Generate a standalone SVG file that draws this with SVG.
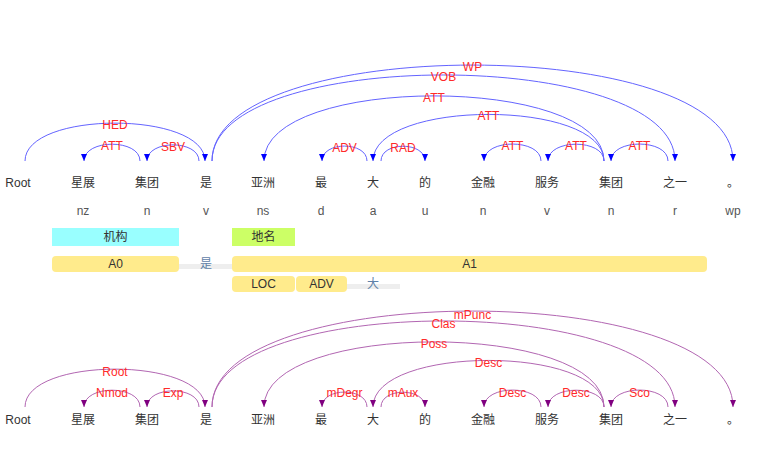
<svg xmlns="http://www.w3.org/2000/svg" width="784" height="449" viewBox="0 0 784 449">
<style>
text{font-family:"Liberation Sans","Noto Sans CJK SC",sans-serif;font-size:12px;text-anchor:middle}
.w{fill:#333}
.t{fill:#555}
.lbl{fill:#ff2a2a}
.dep{fill:none;stroke:#6464ff;stroke-width:1;marker-end:url(#ab)}
.sdp{fill:none;stroke:#b266b2;stroke-width:1;marker-end:url(#ap)}
.pill{fill:#ffeb8c}
.bar{fill:#eeeeee}
.pred{fill:#5f81a8}
.rt{fill:#333}
</style>
<defs>
<marker id="ab" markerUnits="userSpaceOnUse" markerWidth="8" markerHeight="8" refX="7" refY="3" orient="auto"><path d="M0,0 L7,3 L0,6 z" fill="#0000ff"/></marker>
<marker id="ap" markerUnits="userSpaceOnUse" markerWidth="8" markerHeight="8" refX="7" refY="3" orient="auto"><path d="M0,0 L7,3 L0,6 z" fill="#800080"/></marker>
</defs>
<rect width="784" height="449" fill="#fff"/>

<g id="connectors">
<!-- top dependency arcs -->
<path class="dep" d="M25,161 C25,110.5 205,110.5 205,161"/>
<path class="dep" d="M140,161 C140,138.6 84,138.6 84,161"/>
<path class="dep" d="M199,161 C199,139.5 147,139.5 147,161"/>
<path class="dep" d="M212,161 C212,46.3 675,46.3 675,161"/>
<path class="dep" d="M212,161 C212,33.1 733,33.1 733,161"/>
<path class="dep" d="M604,161 C604,74.2 264,74.2 264,161"/>
<path class="dep" d="M367,161 C367,141.1 322,141.1 322,161"/>
<path class="dep" d="M381,161 C381,141.3 425,141.3 425,161"/>
<path class="dep" d="M604,161 C604,98.9 373,98.9 373,161"/>
<path class="dep" d="M541,161 C541,138.4 484,138.4 484,161"/>
<path class="dep" d="M604,161 C604,138.6 548,138.6 548,161"/>
<path class="dep" d="M668,161 C668,138.4 611,138.4 611,161"/>
<g class="lbl">
<text class="lbl" x="115" y="129">HED</text>
<text class="lbl" x="112" y="150">ATT</text>
<text class="lbl" x="173" y="151">SBV</text>
<text class="lbl" x="443.5" y="81">VOB</text>
<text class="lbl" x="472.5" y="71">WP</text>
<text class="lbl" x="434" y="102">ATT</text>
<text class="lbl" x="344.5" y="152">ADV</text>
<text class="lbl" x="403" y="152">RAD</text>
<text class="lbl" x="488.5" y="120">ATT</text>
<text class="lbl" x="512.5" y="150">ATT</text>
<text class="lbl" x="576" y="150">ATT</text>
<text class="lbl" x="639.5" y="150">ATT</text>
</g>
<!-- bottom semantic arcs -->
<path class="sdp" d="M25,407 C25,356.5 205,356.5 205,407"/>
<path class="sdp" d="M140,407 C140,384.6 84,384.6 84,407"/>
<path class="sdp" d="M199,407 C199,385.5 147,385.5 147,407"/>
<path class="sdp" d="M212,407 C212,292.3 675,292.3 675,407"/>
<path class="sdp" d="M212,407 C212,279.1 733,279.1 733,407"/>
<path class="sdp" d="M604,407 C604,320.2 264,320.2 264,407"/>
<path class="sdp" d="M367,407 C367,387.1 322,387.1 322,407"/>
<path class="sdp" d="M381,407 C381,387.3 425,387.3 425,407"/>
<path class="sdp" d="M604,407 C604,344.9 373,344.9 373,407"/>
<path class="sdp" d="M541,407 C541,384.4 484,384.4 484,407"/>
<path class="sdp" d="M604,407 C604,384.6 548,384.6 548,407"/>
<path class="sdp" d="M668,407 C668,384.4 611,384.4 611,407"/>
<text class="lbl" x="115" y="376">Root</text>
<text class="lbl" x="112" y="397">Nmod</text>
<text class="lbl" x="173" y="397">Exp</text>
<text class="lbl" x="443.5" y="328">Clas</text>
<text class="lbl" x="472.5" y="319">mPunc</text>
<text class="lbl" x="434" y="348">Poss</text>
<text class="lbl" x="344.5" y="397">mDegr</text>
<text class="lbl" x="403" y="397">mAux</text>
<text class="lbl" x="488.5" y="367">Desc</text>
<text class="lbl" x="512.5" y="397">Desc</text>
<text class="lbl" x="576" y="397">Desc</text>
<text class="lbl" x="639.5" y="397">Sco</text>
</g>

<!-- top word row with POS tags -->
<g id="w0"><text class="w" x="18" y="187">Root</text></g>
<g id="w1"><text class="w" x="83" y="187">星展</text><text class="t" x="83" y="215">nz</text></g>
<g id="w2"><text class="w" x="147" y="187">集团</text><text class="t" x="147" y="215">n</text></g>
<g id="w3"><text class="w" x="206" y="187">是</text><text class="t" x="206" y="215">v</text></g>
<g id="w4"><text class="w" x="263" y="187">亚洲</text><text class="t" x="263" y="215">ns</text></g>
<g id="w5"><text class="w" x="321" y="187">最</text><text class="t" x="321" y="215">d</text></g>
<g id="w6"><text class="w" x="373" y="187">大</text><text class="t" x="373" y="215">a</text></g>
<g id="w7"><text class="w" x="425" y="187">的</text><text class="t" x="425" y="215">u</text></g>
<g id="w8"><text class="w" x="483" y="187">金融</text><text class="t" x="483" y="215">n</text></g>
<g id="w9"><text class="w" x="547" y="187">服务</text><text class="t" x="547" y="215">v</text></g>
<g id="w10"><text class="w" x="611" y="187">集团</text><text class="t" x="611" y="215">n</text></g>
<g id="w11"><text class="w" x="675" y="187">之一</text><text class="t" x="675" y="215">r</text></g>
<g id="w12"><text class="w" x="733" y="187">。</text><text class="t" x="733" y="215">wp</text></g>

<!-- named entities -->
<g id="ne1"><rect x="52" y="228" width="127" height="18" fill="#99ffff"/><text class="rt" x="115.5" y="241">机构</text></g>
<g id="ne2"><rect x="232" y="228" width="63" height="18" fill="#ccff66"/><text class="rt" x="263.5" y="241">地名</text></g>

<!-- semantic roles -->
<g id="srl1">
<rect class="bar" x="175" y="264" width="62" height="5"/>
<rect class="pill" x="52" y="256" width="127" height="16" rx="4"/>
<text class="rt" x="115.5" y="268">A0</text>
<text class="pred" x="206" y="268">是</text>
<rect class="pill" x="232" y="256" width="475" height="16" rx="4"/>
<text class="rt" x="469.5" y="268">A1</text>
</g>
<g id="srl2">
<rect class="bar" x="343" y="284" width="57" height="5"/>
<rect class="pill" x="232" y="276" width="63" height="16" rx="4"/>
<text class="rt" x="263.5" y="288">LOC</text>
<rect class="pill" x="296" y="276" width="51" height="16" rx="4"/>
<text class="rt" x="321.5" y="288">ADV</text>
<text class="pred" x="373" y="288">大</text>
</g>

<!-- bottom word row -->
<g id="b0"><text class="w" x="18" y="424">Root</text></g>
<g id="b1"><text class="w" x="83" y="424">星展</text></g>
<g id="b2"><text class="w" x="147" y="424">集团</text></g>
<g id="b3"><text class="w" x="206" y="424">是</text></g>
<g id="b4"><text class="w" x="263" y="424">亚洲</text></g>
<g id="b5"><text class="w" x="321" y="424">最</text></g>
<g id="b6"><text class="w" x="373" y="424">大</text></g>
<g id="b7"><text class="w" x="425" y="424">的</text></g>
<g id="b8"><text class="w" x="483" y="424">金融</text></g>
<g id="b9"><text class="w" x="547" y="424">服务</text></g>
<g id="b10"><text class="w" x="611" y="424">集团</text></g>
<g id="b11"><text class="w" x="675" y="424">之一</text></g>
<g id="b12"><text class="w" x="733" y="424">。</text></g>
</svg>
